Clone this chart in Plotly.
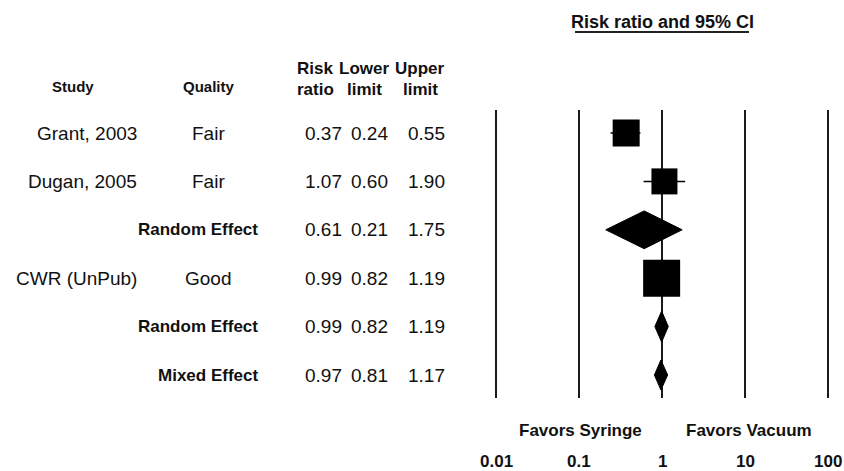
import math
import plotly.graph_objects as go

# Forest plot data
studies = ["Grant, 2003", "Dugan, 2005", "Random Effect", "CWR (UnPub)", "Random Effect", "Mixed Effect"]
quality = ["Fair", "Fair", "", "Good", "", ""]
risk_ratio = [0.37, 1.07, 0.61, 0.99, 0.99, 0.97]
lower_limit = [0.24, 0.60, 0.21, 0.82, 0.82, 0.81]
upper_limit = [0.55, 1.90, 1.75, 1.19, 1.19, 1.17]
is_summary = [False, False, True, False, True, True]
scale_ticks = [0.01, 0.1, 1, 10, 100]
scale_labels = ["0.01", "0.1", "1", "10", "100"]

# Styling: square marker size (px) for studies, diamond half-height (rows) for summaries
box_size = [27, 26, 0, 37, 0, 0]
diamond_half = [0, 0, 0.39, 0, 0.32, 0.31]

W, H = 844, 471
PX_DECADE = 83.0
X_LEFT_LINE = 496.0
ROW0_PX, ROW_STEP = 133.0, 48.4

x_lo = math.log10(scale_ticks[0]) - X_LEFT_LINE / PX_DECADE
x_hi = x_lo + W / PX_DECADE
y_top = -ROW0_PX / ROW_STEP
y_bot = (H - ROW0_PX) / ROW_STEP


def px_x(p):
    return p / W


def px_row(p):
    return (p - ROW0_PX) / ROW_STEP


FONT = "Liberation Sans, Arial, sans-serif"
INK = "#111111"

fig = go.Figure()

# Vertical reference lines at each decade
line_top, line_bot = px_row(110), px_row(398)
for v in scale_ticks:
    fig.add_trace(go.Scatter(x=[v, v], y=[line_top, line_bot], mode="lines",
                             line=dict(color="#1a1a1a", width=2), hoverinfo="skip"))

rows = list(range(len(studies)))

for i in rows:
    if is_summary[i]:
        h = diamond_half[i]
        fig.add_trace(go.Scatter(
            x=[lower_limit[i], risk_ratio[i], upper_limit[i], risk_ratio[i], lower_limit[i]],
            y=[i, i - h, i, i + h, i], mode="lines", fill="toself",
            fillcolor="black", line=dict(color="black", width=1), hoverinfo="skip"))
    else:
        fig.add_trace(go.Scatter(x=[lower_limit[i], upper_limit[i]], y=[i, i], mode="lines",
                                 line=dict(color="black", width=1.5), hoverinfo="skip"))
        fig.add_trace(go.Scatter(x=[risk_ratio[i]], y=[i], mode="markers",
                                 marker=dict(symbol="square", size=box_size[i], color="black",
                                             line=dict(width=0)), hoverinfo="skip"))

ann = []


def text(x, y, s, size, bold=False, xanchor="center", xref="paper"):
    ann.append(dict(x=x, y=y, xref=xref, yref="y", text=f"<b>{s}</b>" if bold else s,
                    showarrow=False, xanchor=xanchor, yanchor="middle", borderpad=0,
                    font=dict(family=FONT, size=size, color=INK)))


# Column headers
text(px_x(73), px_row(86), "Study", 15, True)
text(px_x(209), px_row(86), "Quality", 15, True)
for cx, top, bottom in [(315, "Risk", "ratio"), (364, "Lower", "limit"), (420, "Upper", "limit")]:
    text(px_x(cx), px_row(68), top, 17, True)
    text(px_x(cx), px_row(89), bottom, 17, True)

# Table rows
for i in rows:
    if is_summary[i]:
        text(px_x(259), i, studies[i], 17, True, "right")
    else:
        text(px_x(138), i, studies[i], 19, False, "right")
        text(px_x(208), i, quality[i], 19)
    text(px_x(343), i, f"{risk_ratio[i]:.2f}", 19, False, "right")
    text(px_x(389), i, f"{lower_limit[i]:.2f}", 19, False, "right")
    text(px_x(446), i, f"{upper_limit[i]:.2f}", 19, False, "right")

# Title above the forest panel
text(px_x(662), px_row(22), "Risk ratio and 95% CI", 18, True)

# Direction labels and scale labels
text(px_x(580), px_row(430), "Favors Syringe", 17, True)
text(px_x(749), px_row(430), "Favors Vacuum", 17, True)
for v, lab in zip(scale_ticks, scale_labels):
    text(math.log10(v), px_row(461), lab, 17, True, "center", "x")

fig.update_layout(
    width=W, height=H, margin=dict(l=0, r=0, t=0, b=0),
    paper_bgcolor="white", plot_bgcolor="white", showlegend=False,
    annotations=ann,
    shapes=[dict(type="line", xref="paper", yref="y", x0=px_x(575), x1=px_x(749),
                 y0=px_row(32), y1=px_row(32), line=dict(color="#222222", width=2))],
    xaxis=dict(type="log", range=[x_lo, x_hi], visible=False, fixedrange=True),
    yaxis=dict(range=[y_bot, y_top], visible=False, fixedrange=True),
)

fig.write_html("out.html")
